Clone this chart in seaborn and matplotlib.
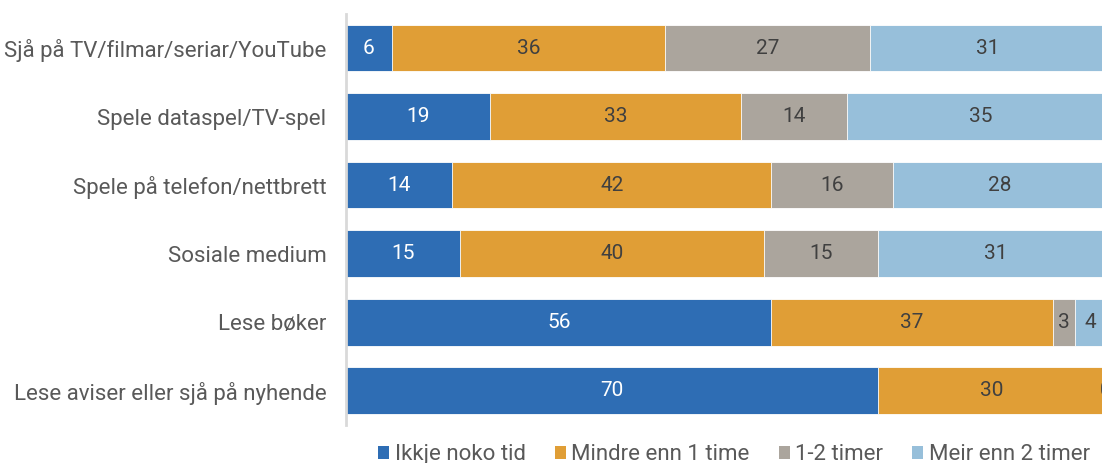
import numpy as np
import pandas as pd
import matplotlib
matplotlib.use("Agg")
import matplotlib.pyplot as plt
import seaborn as sns
from matplotlib.patches import Patch

categories = [
    "Sjå på TV/filmar/seriar/YouTube",
    "Spele dataspel/TV-spel",
    "Spele på telefon/nettbrett",
    "Sosiale medium",
    "Lese bøker",
    "Lese aviser eller sjå på nyhende",
]
series_names = ["Ikkje noko tid", "Mindre enn 1 time", "1-2 timer", "Meir enn 2 timer"]
ikkje = [6, 19, 14, 15, 56, 70]
mindre = [36, 33, 42, 40, 37, 30]
timer12 = [27, 14, 16, 15, 3, 0]
meir = [31, 35, 28, 31, 4, 0]

colors = ["#2E6DB4", "#E09E36", "#ABA59D", "#97BFDA"]
text_colors = ["white", "#404040", "#404040", "#404040"]

sns.set_theme(style="white")
plt.rcParams["font.family"] = ["Roboto", "DejaVu Sans"]

series = [ikkje, mindre, timer12, meir]
cums = np.cumsum(np.array(series, dtype=float), axis=0)

fig = plt.figure(figsize=(11.02, 4.63), dpi=100)
ax = fig.add_axes([0.314, 0.082, 0.686, 0.888])

for i in range(len(series) - 1, -1, -1):
    d = pd.DataFrame({"cat": categories, "val": cums[i]})
    sns.barplot(data=d, y="cat", x="val", orient="h", color=colors[i],
                saturation=1, width=0.68, edgecolor="white", linewidth=0.6, ax=ax)

for i, s in enumerate(series):
    for j, v in enumerate(s):
        center = cums[i][j] - v / 2
        if v == 0 and i != 2:
            continue
        ax.text(center, j, f"{v}", ha="center", va="center",
                color=text_colors[i], fontsize=15)

ax.set_xlim(0, 99.5)
ax.set_ylim(5.5, -0.5)
ax.set_xlabel("")
ax.set_ylabel("")
ax.set_xticks([])
ax.tick_params(axis="y", length=0, labelsize=16, labelcolor="#595959", pad=14)
for sp in ["top", "right", "bottom"]:
    ax.spines[sp].set_visible(False)
ax.spines["left"].set_color("#D9D9D9")
ax.spines["left"].set_linewidth(2)

handles = [Patch(facecolor=c, edgecolor="none") for c in colors]
fig.legend(handles, series_names, loc="center", bbox_to_anchor=(0.666, 0.018),
           ncol=4, frameon=False, fontsize=16, handlelength=0.5, handleheight=0.5,
           handletextpad=0.25, columnspacing=1.3, labelcolor="#595959",
           borderpad=0, borderaxespad=0)

fig.savefig("out.png", dpi=100)
